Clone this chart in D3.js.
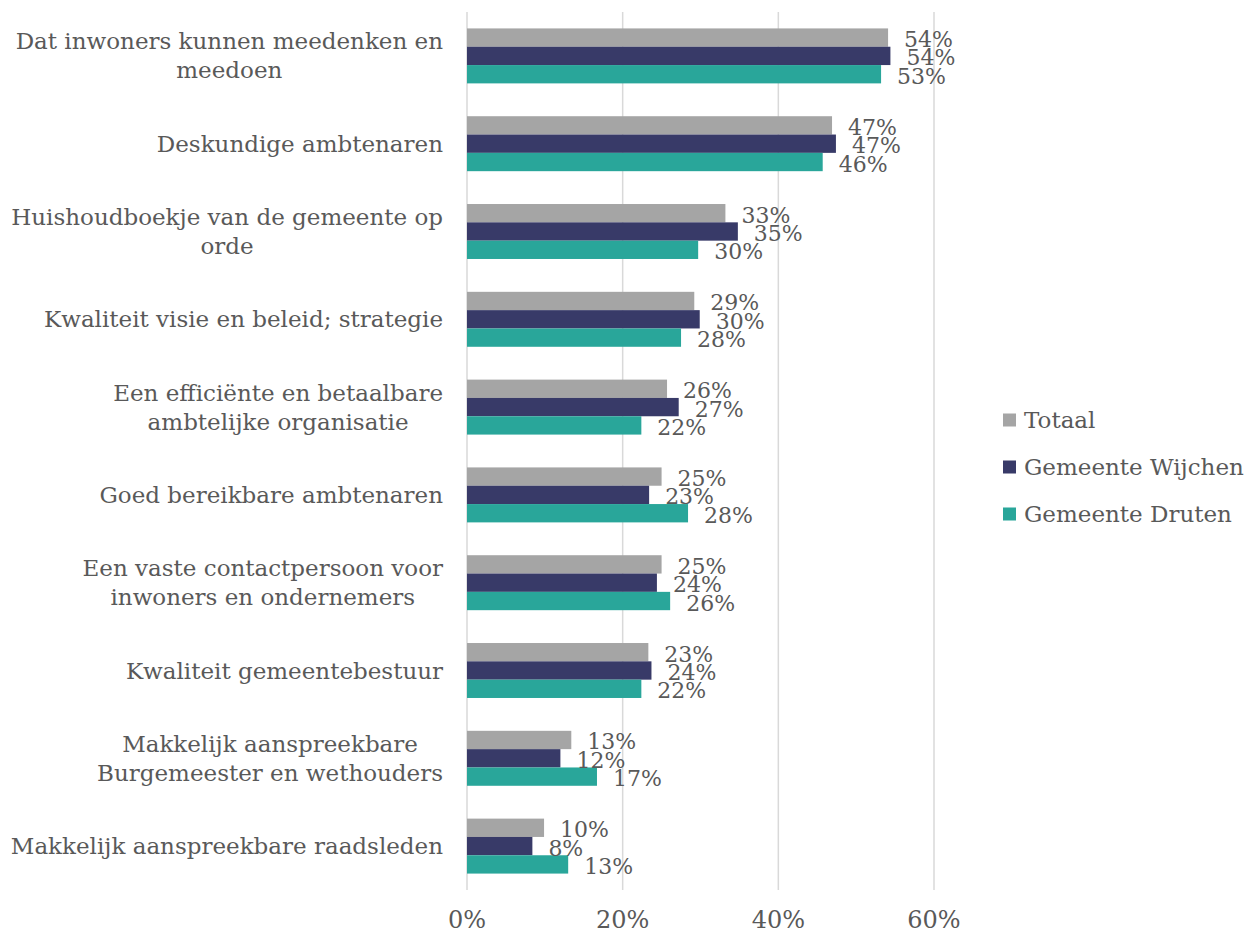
<!DOCTYPE html>
<html>
<head>
<meta charset="utf-8">
<script src="https://cdn.jsdelivr.net/npm/d3@7"></script>
<style>
  body { margin: 0; background: #fff; }
  text { font-family: "DejaVu Serif", serif; fill: #595959; }
</style>
</head>
<body>
<svg width="1248" height="934"></svg>
<script>
// categories, top to bottom
var categories = [
  "Dat inwoners kunnen meedenken en meedoen",
  "Deskundige ambtenaren",
  "Huishoudboekje van de gemeente op orde",
  "Kwaliteit visie en beleid; strategie",
  "Een efficiënte en betaalbare ambtelijke organisatie",
  "Goed bereikbare ambtenaren",
  "Een vaste contactpersoon voor inwoners en ondernemers",
  "Kwaliteit gemeentebestuur",
  "Makkelijk aanspreekbare Burgemeester en wethouders",
  "Makkelijk aanspreekbare raadsleden"
];
// how the labels are broken over lines in the picture
var labelLines = [
  ["Dat inwoners kunnen meedenken en", "meedoen"],
  ["Deskundige ambtenaren"],
  ["Huishoudboekje van de gemeente op", "orde"],
  ["Kwaliteit visie en beleid; strategie"],
  ["Een efficiënte en betaalbare", "ambtelijke organisatie"],
  ["Goed bereikbare ambtenaren"],
  ["Een vaste contactpersoon voor", "inwoners en ondernemers"],
  ["Kwaliteit gemeentebestuur"],
  ["Makkelijk aanspreekbare", "Burgemeester en wethouders"],
  ["Makkelijk aanspreekbare raadsleden"]
];
var seriesNames = ["Totaal", "Gemeente Wijchen", "Gemeente Druten"];
var totaal  = [0.541, 0.469, 0.332, 0.292, 0.257, 0.250, 0.250, 0.233, 0.134, 0.099];
var wijchen = [0.544, 0.474, 0.348, 0.299, 0.272, 0.234, 0.244, 0.237, 0.120, 0.084];
var druten  = [0.532, 0.457, 0.297, 0.275, 0.224, 0.284, 0.261, 0.224, 0.167, 0.130];
var xTicks = [0, 0.2, 0.4, 0.6];
var colors = ["#a5a5a5", "#383a68", "#29a69a"];

var svg = d3.select("svg");
var values = [totaal, wijchen, druten];

var x = d3.scaleLinear().domain([0, 0.6]).range([467, 934]);
var y = d3.scaleBand().domain(categories).range([12, 890])
    .paddingInner(0.374).paddingOuter(0.187);
var ySub = d3.scaleBand().domain(seriesNames).range([0, y.bandwidth()]);
var color = d3.scaleOrdinal().domain(seriesNames).range(colors);
var pct = d3.format(".0%");

// gridlines
svg.append("g").selectAll("line")
  .data(xTicks)
  .enter().append("line")
  .attr("x1", d => x(d)).attr("x2", d => x(d))
  .attr("y1", 12).attr("y2", 890)
  .attr("stroke", "#d9d9d9")
  .attr("stroke-width", 1.5);

// x tick labels
svg.append("g").selectAll("text")
  .data(xTicks)
  .enter().append("text")
  .attr("x", d => x(d))
  .attr("y", 920)
  .attr("text-anchor", "middle")
  .attr("dominant-baseline", "central")
  .attr("font-size", 24)
  .text(d => pct(d));

// bars
var rows = [];
categories.forEach(function(c, i){
  seriesNames.forEach(function(s, j){
    rows.push({cat: c, series: s, val: values[j][i]});
  });
});

svg.append("g").selectAll("rect")
  .data(rows)
  .enter().append("rect")
  .attr("x", x(0))
  .attr("y", d => y(d.cat) + ySub(d.series))
  .attr("width", d => x(d.val) - x(0))
  .attr("height", ySub.bandwidth())
  .attr("fill", d => color(d.series));

// value labels
svg.append("g").selectAll("text")
  .data(rows)
  .enter().append("text")
  .attr("x", d => x(d.val) + 16)
  .attr("y", d => y(d.cat) + ySub(d.series) + ySub.bandwidth() / 2 + 2)
  .attr("dominant-baseline", "central")
  .attr("font-size", 22)
  .text(d => pct(d.val));

// category labels: block right-aligned, lines centred inside the block
var lineH = 29, labelRight = 443;
var cats = svg.append("g").selectAll("text")
  .data(categories)
  .enter().append("text")
  .attr("text-anchor", "middle")
  .attr("font-size", 23);
cats.each(function(d, i){
  var lines = labelLines[i];
  var t = d3.select(this);
  lines.forEach(function(l, k){
    t.append("tspan")
      .attr("y", y(d) + y.bandwidth() / 2 + (k - (lines.length - 1) / 2) * lineH)
      .attr("dominant-baseline", "central")
      .text(l);
  });
  var maxW = d3.max(t.selectAll("tspan").nodes(), n => n.getComputedTextLength());
  t.selectAll("tspan").attr("x", labelRight - maxW / 2);
});

// legend
var legend = svg.append("g").selectAll("g")
  .data(seriesNames)
  .enter().append("g")
  .attr("transform", (d, i) => "translate(1003," + (420 + i * 47) + ")");
legend.append("rect")
  .attr("x", 0).attr("y", -6.5)
  .attr("width", 13).attr("height", 13)
  .attr("fill", d => color(d));
legend.append("text")
  .attr("x", 21)
  .attr("y", 0)
  .attr("dominant-baseline", "central")
  .attr("font-size", 23)
  .text(d => d);
</script>
</body>
</html>
